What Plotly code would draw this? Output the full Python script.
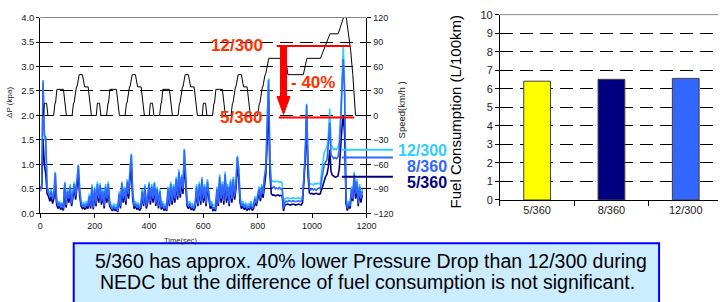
import plotly.graph_objects as go

W, H = 728, 302

# ---------------- data ----------------
TIME = list(range(0, 1190, 5))

DP_12_300 = [
    0.5, 0.6, 2.65, 1.55, 1.45, 0.55, 0.48, 0.4, 0.5, 0.35, 0.42, 0.85, 0.3, 0.2, 0.25, 0.18, 0.22, 0.15, 0.65, 0.22,
    0.5, 0.35, 0.6, 0.25, 0.45, 0.65, 0.4, 0.75, 1.0, 0.5, 0.25, 0.2, 0.22, 0.18, 0.25, 0.2, 0.4, 0.2, 0.6, 0.18,
    0.55, 0.25, 0.65, 0.35, 0.62, 0.3, 0.5, 0.2, 0.6, 0.35, 0.65, 0.25, 0.18, 0.12, 0.2, 0.15, 0.18, 0.1, 0.45, 0.2,
    0.65, 0.35, 0.55, 0.3, 0.7, 0.45, 0.9, 1.22, 0.45, 0.2, 0.25, 0.18, 0.22, 0.15, 0.2, 0.5, 0.25, 0.6, 0.2, 0.35,
    0.65, 0.3, 0.6, 0.35, 0.65, 0.25, 0.55, 0.2, 0.5, 0.18, 0.25, 0.15, 0.2, 0.12, 0.55, 0.25, 0.65, 0.3, 0.6, 0.35,
    0.75, 0.4, 0.9, 0.45, 0.8, 0.55, 1.32, 0.65, 0.25, 0.2, 0.25, 0.18, 0.2, 0.15, 0.22, 0.6, 0.25, 0.65, 0.3, 0.75,
    0.35, 0.6, 0.25, 0.7, 0.4, 0.2, 0.25, 0.15, 0.18, 0.12, 0.55, 0.25, 0.8, 0.35, 0.65, 0.3, 0.85, 0.35, 0.6, 0.25,
    0.7, 0.35, 0.75, 0.4, 0.65, 1.18, 0.95, 0.35, 0.2, 0.25, 0.18, 0.22, 0.15, 0.2, 0.18, 0.25, 0.15, 0.2, 0.35, 0.25,
    0.4, 0.55, 0.35, 0.6, 0.45, 0.8, 1.0, 1.9, 2.76, 1.1, 0.68, 0.65, 0.66, 0.64, 0.66, 0.65, 0.63, 0.65, 0.62, 0.1,
    0.3, 0.31, 0.32, 0.3, 0.31, 0.3, 0.32, 0.31, 0.3, 0.31, 0.32, 0.3, 0.31, 0.35, 0.7, 1.3, 2.24, 1.1, 0.62, 0.6,
    0.6, 0.58, 0.61, 0.6, 0.62, 0.6, 0.6, 0.85, 1.1, 1.25, 1.3, 1.35, 1.6, 2.14, 1.4, 1.33, 1.3, 1.32, 1.3, 1.33,
    1.45, 2.0, 2.9, 3.42, 2.6, 0.35, 0.12, 0.25, 0.2, 0.55, 0.35, 0.85, 0.45, 0.7, 0.25, 0.6, 0.35, 0.5,
]

DP_8_360 = [
    0.45, 0.55, 2.72, 1.6, 1.55, 0.5, 0.42, 0.35, 0.45, 0.3, 0.38, 0.82, 0.25, 0.15, 0.22, 0.12, 0.2, 0.1, 0.62, 0.18,
    0.45, 0.3, 0.55, 0.2, 0.4, 0.6, 0.35, 0.7, 0.98, 0.45, 0.2, 0.15, 0.18, 0.12, 0.2, 0.15, 0.35, 0.15, 0.55, 0.12,
    0.5, 0.2, 0.6, 0.3, 0.58, 0.25, 0.45, 0.15, 0.55, 0.3, 0.6, 0.2, 0.12, 0.08, 0.15, 0.1, 0.12, 0.05, 0.4, 0.15,
    0.62, 0.3, 0.5, 0.25, 0.65, 0.4, 0.85, 1.2, 0.4, 0.15, 0.2, 0.12, 0.18, 0.1, 0.15, 0.45, 0.2, 0.55, 0.15, 0.3,
    0.6, 0.25, 0.55, 0.3, 0.62, 0.2, 0.5, 0.15, 0.45, 0.12, 0.2, 0.1, 0.15, 0.08, 0.5, 0.2, 0.6, 0.25, 0.55, 0.3,
    0.7, 0.35, 0.85, 0.4, 0.75, 0.5, 1.3, 0.6, 0.2, 0.15, 0.2, 0.12, 0.15, 0.1, 0.18, 0.55, 0.2, 0.6, 0.25, 0.7,
    0.3, 0.55, 0.2, 0.65, 0.35, 0.15, 0.2, 0.1, 0.12, 0.08, 0.5, 0.2, 0.75, 0.3, 0.6, 0.25, 0.8, 0.3, 0.55, 0.2,
    0.65, 0.3, 0.7, 0.35, 0.6, 1.15, 0.9, 0.3, 0.15, 0.2, 0.12, 0.18, 0.1, 0.15, 0.12, 0.2, 0.1, 0.15, 0.3, 0.2,
    0.35, 0.5, 0.3, 0.55, 0.4, 0.75, 0.9, 1.8, 2.72, 1.0, 0.55, 0.52, 0.55, 0.5, 0.52, 0.5, 0.53, 0.5, 0.5, 0.1,
    0.22, 0.25, 0.24, 0.26, 0.25, 0.24, 0.26, 0.25, 0.24, 0.25, 0.26, 0.24, 0.25, 0.3, 0.8, 1.2, 2.22, 1.0, 0.5, 0.48,
    0.5, 0.48, 0.5, 0.47, 0.5, 0.52, 0.5, 0.7, 0.9, 1.0, 1.05, 1.1, 1.4, 1.85, 1.2, 1.15, 1.12, 1.14, 1.12, 1.15,
    1.3, 1.8, 2.6, 3.15, 2.4, 0.3, 0.1, 0.2, 0.15, 0.5, 0.3, 0.8, 0.4, 0.65, 0.2, 0.55, 0.3, 0.45,
]

DP_5_360 = [
    0.55, 0.5, 1.5, 1.0, 0.8, 0.4, 0.35, 0.25, 0.35, 0.2, 0.3, 0.6, 0.18, 0.1, 0.15, 0.08, 0.12, 0.06, 0.5, 0.12,
    0.38, 0.22, 0.45, 0.15, 0.32, 0.5, 0.28, 0.6, 0.8, 0.35, 0.15, 0.1, 0.12, 0.08, 0.14, 0.1, 0.28, 0.1, 0.45, 0.08,
    0.42, 0.15, 0.5, 0.22, 0.5, 0.18, 0.38, 0.1, 0.45, 0.22, 0.5, 0.15, 0.08, 0.05, 0.1, 0.06, 0.08, 0.03, 0.32, 0.1,
    0.52, 0.22, 0.42, 0.18, 0.55, 0.3, 0.7, 0.95, 0.3, 0.1, 0.15, 0.08, 0.12, 0.06, 0.1, 0.38, 0.15, 0.45, 0.1, 0.22,
    0.5, 0.18, 0.45, 0.22, 0.52, 0.15, 0.42, 0.1, 0.38, 0.08, 0.15, 0.06, 0.1, 0.05, 0.42, 0.15, 0.5, 0.18, 0.45, 0.22,
    0.58, 0.28, 0.7, 0.32, 0.62, 0.4, 1.05, 0.5, 0.15, 0.1, 0.15, 0.08, 0.1, 0.06, 0.12, 0.45, 0.15, 0.5, 0.18, 0.58,
    0.22, 0.45, 0.15, 0.55, 0.28, 0.1, 0.15, 0.06, 0.08, 0.05, 0.42, 0.15, 0.62, 0.22, 0.5, 0.18, 0.68, 0.22, 0.45, 0.15,
    0.55, 0.22, 0.58, 0.28, 0.5, 0.95, 0.75, 0.22, 0.1, 0.15, 0.08, 0.12, 0.06, 0.1, 0.08, 0.15, 0.06, 0.1, 0.25, 0.15,
    0.28, 0.42, 0.25, 0.45, 0.32, 0.62, 0.8, 1.5, 2.3, 0.8, 0.4, 0.37, 0.38, 0.36, 0.37, 0.38, 0.36, 0.37, 0.36, 0.05,
    0.17, 0.18, 0.19, 0.18, 0.17, 0.18, 0.19, 0.18, 0.17, 0.18, 0.19, 0.18, 0.17, 0.22, 0.6, 1.1, 1.9, 0.8, 0.42, 0.4,
    0.41, 0.39, 0.4, 0.41, 0.4, 0.39, 0.4, 0.5, 0.6, 0.7, 0.75, 0.8, 0.95, 1.3, 0.85, 0.78, 0.75, 0.74, 0.75, 0.76,
    0.9, 1.4, 1.75, 2.0, 1.6, 0.2, 0.06, 0.15, 0.1, 0.4, 0.25, 0.7, 0.3, 0.5, 0.15, 0.45, 0.22, 0.38,
]

SPEED_T = [
    0, 11, 15, 23, 28, 49, 54, 56, 61, 85, 96, 117, 122, 124, 133, 135, 143, 155, 163, 176, 188,
    195, 206, 210, 218, 223, 244, 249, 251, 256, 280, 291, 312, 317, 319, 328, 330, 338, 350, 358, 371, 383,
    390, 401, 405, 413, 418, 439, 444, 446, 451, 475, 486, 507, 512, 514, 523, 525, 533, 545, 553, 566, 578,
    585, 596, 600, 608, 613, 634, 639, 641, 646, 670, 681, 702, 707, 709, 718, 720, 728, 740, 748, 761, 773,
    780, 800, 806, 808, 817, 819, 827, 829, 841, 903, 911, 968, 981, 1031, 1066, 1096, 1116, 1126, 1142,
    1150, 1160, 1180,
]
SPEED_V = [
    0, 0, 15, 15, 0, 0, 15, 15, 32, 32, 0, 0, 15, 15, 35, 35, 50, 50, 35, 35, 0,
    0, 0, 15, 15, 0, 0, 15, 15, 32, 32, 0, 0, 15, 15, 35, 35, 50, 50, 35, 35, 0,
    0, 0, 15, 15, 0, 0, 15, 15, 32, 32, 0, 0, 15, 15, 35, 35, 50, 50, 35, 35, 0,
    0, 0, 15, 15, 0, 0, 15, 15, 32, 32, 0, 0, 15, 15, 35, 35, 50, 50, 35, 35, 0,
    0, 0, 15, 15, 35, 35, 50, 50, 70, 70, 50, 50, 70, 70, 100, 100, 120, 120, 80,
    50, 0, 0,
]

SERIES_NAMES = ["12/300", "8/360", "5/360"]
SERIES_COLORS = ["#33CCFF", "#3366FF", "#000080"]
PLATEAU_LEVEL = [1.30, 1.14, 0.75]   # level marked by the side labels

# red comparison markers
PEAK_12_300 = 3.42
PEAK_5_360 = 1.96
LINE_12_300_T = [870, 1141]
LINE_5_360_T = [877, 1155]
ARROW_T = 895
ARROW_FROM = 3.40
ARROW_TO = 2.02
REDUCTION_TEXT = "- 40%"
REDUCTION_LEVEL = 2.67

# fuel consumption bars
FUEL_CATS = ["5/360", "8/360", "12/300"]
FUEL_VALUES = [6.41, 6.51, 6.56]
FUEL_COLORS = ["#FFFF00", "#000080", "#3366FF"]

NOTE_LINES = [
    "5/360 has approx. 40% lower Pressure Drop than 12/300 during",
    "NEDC but the difference of fuel consumption is not significant.",
]

# ---------------- layout helpers ----------------
def px(xp):
    return xp / W

def py(yp):
    return 1 - yp / H

L_X = [px(38), px(370)]
L_Y = [py(216), py(12)]
R_X = [px(506), 1.0]
R_Y = [py(202), py(9)]

def dp_to_paper(v):
    return L_Y[0] + (v / 4.0) * (L_Y[1] - L_Y[0])

FONT = "Liberation Sans, Arial, sans-serif"

fig = go.Figure()

# speed profile
fig.add_trace(go.Scatter(x=SPEED_T, y=SPEED_V, mode="lines", yaxis="y3", xaxis="x",
                         line=dict(color="#000000", width=1), showlegend=False))
# pressure drop curves
order = [0, 2, 1]
for i in order:
    vals = [DP_12_300, DP_8_360, DP_5_360][i]
    fig.add_trace(go.Scatter(x=TIME, y=vals, mode="lines", xaxis="x", yaxis="y",
                             line=dict(color=SERIES_COLORS[i], width=1.6), showlegend=False))

# bars
fig.add_trace(go.Bar(x=FUEL_CATS, y=FUEL_VALUES, xaxis="x2", yaxis="y2", width=0.36,
                     marker=dict(color=FUEL_COLORS, line=dict(color="#404040", width=1)),
                     showlegend=False))

dash = "13px,7px"
tickfont_s = dict(family=FONT, size=9, color="#222")
fig.update_layout(
    width=W, height=H, autosize=False,
    margin=dict(l=0, r=0, t=0, b=0),
    paper_bgcolor="white", plot_bgcolor="white",
    font=dict(family=FONT, color="#000"),
    xaxis=dict(domain=L_X, range=[0, 1200], tickvals=list(range(0, 1201, 200)),
               showgrid=False, zeroline=False, showline=True, linecolor="#000", linewidth=1,
               ticks="outside", ticklen=4, tickcolor="#000", tickfont=tickfont_s, anchor="y"),
    yaxis=dict(domain=L_Y, range=[0, 4], tickvals=[0, 0.5, 1, 1.5, 2, 2.5, 3, 3.5, 4],
               tickformat=".1f", showgrid=True, gridcolor="#000", gridwidth=1, griddash=dash,
               zeroline=False, showline=True, linecolor="#000", linewidth=1,
               ticks="outside", ticklen=3, tickcolor="#000",
               tickfont=dict(family=FONT, size=9.5, color="#222"), anchor="x"),
    yaxis3=dict(overlaying="y", side="right", anchor="x", range=[-120, 120],
                tickvals=list(range(-120, 121, 30)), showgrid=False, zeroline=False,
                showline=True, linecolor="#000", linewidth=1, ticks="outside", ticklen=4,
                tickcolor="#000", tickfont=tickfont_s),
    xaxis2=dict(domain=R_X, type="category", range=[-0.5, 2.434], anchor="y2",
                tickson="boundaries", ticks="outside", ticklen=5, tickcolor="#000",
                showline=True, linecolor="#000", linewidth=1, showgrid=False,
                tickfont=dict(family=FONT, size=11, color="#222")),
    yaxis2=dict(domain=R_Y, range=[0, 10], dtick=1, anchor="x2", showgrid=True,
                gridcolor="#000", gridwidth=1, griddash=dash, zeroline=False,
                showline=True, linecolor="#000", linewidth=1, ticks="outside", ticklen=4,
                tickcolor="#000", tickfont=dict(family=FONT, size=11, color="#222")),
)

shapes = []
# top borders
shapes.append(dict(type="line", xref="paper", yref="paper", x0=L_X[0], x1=L_X[1], y0=L_Y[1], y1=L_Y[1],
                   line=dict(color="#888", width=1)))
shapes.append(dict(type="line", xref="paper", yref="paper", x0=R_X[0], x1=R_X[1], y0=R_Y[1], y1=R_Y[1],
                   line=dict(color="#888", width=1)))
# red horizontal comparison lines
shapes.append(dict(type="line", xref="x", yref="y", x0=LINE_12_300_T[0], x1=LINE_12_300_T[1],
                   y0=PEAK_12_300, y1=PEAK_12_300, line=dict(color="#FF0000", width=2)))
shapes.append(dict(type="line", xref="x", yref="y", x0=LINE_5_360_T[0], x1=LINE_5_360_T[1],
                   y0=PEAK_5_360, y1=PEAK_5_360, line=dict(color="#FF0000", width=2)))
# arrow shaft + head
shapes.append(dict(type="line", xref="x", yref="y", x0=ARROW_T, x1=ARROW_T, y0=ARROW_FROM, y1=ARROW_TO + 0.3,
                   line=dict(color="#FF0000", width=7)))
shapes.append(dict(type="path", xref="x", yref="y", xsizemode="pixel", ysizemode="pixel",
                   xanchor=ARROW_T, yanchor=ARROW_TO, path="M -6.5 18 L 6.5 18 L 0 0 Z",
                   fillcolor="#FF0000", line=dict(color="#FF0000", width=1)))
# side label lines
for lvl, col in zip(PLATEAU_LEVEL, SERIES_COLORS):
    yy = dp_to_paper(lvl)
    shapes.append(dict(type="line", xref="paper", yref="paper", x0=px(345), x1=px(397), y0=yy, y1=yy,
                       line=dict(color=col, width=2)))
# text box
shapes.append(dict(type="rect", xref="paper", yref="paper", x0=px(72), x1=px(668), y0=-0.1, y1=py(247),
                   fillcolor="#CCECFF", line=dict(color="#0000FF", width=2), layer="below"))
fig.update_layout(shapes=shapes)

ann = []
red = "#FF3300"

def add_text(x, y, text, size, color, xref="paper", yref="paper", xanchor="center", angle=0):
    ann.append(dict(xref=xref, yref=yref, x=x, y=y, text=text, showarrow=False,
                    xanchor=xanchor, yanchor="middle", textangle=angle, borderpad=0,
                    font=dict(family=FONT, size=size, color=color)))

add_text(px(266), PEAK_12_300, "<b>12/300</b>", 17, red, yref="y", xanchor="right")
add_text(px(266), PEAK_5_360, "<b>5/360</b>", 17, red, yref="y", xanchor="right")
add_text(px(292), REDUCTION_LEVEL, "<b>" + REDUCTION_TEXT + "</b>", 17, red, yref="y", xanchor="left")
label_y = [150, 167, 184]
for name, col, yy in zip(SERIES_NAMES, SERIES_COLORS, label_y):
    add_text(px(453), py(yy), "<b>" + name + "</b>", 16, col, xanchor="right")
add_text(px(6), py(100), "ΔP (kpa)", 8, "#222", angle=-90)
add_text(px(406), py(108), "Speed(km/h )", 9.5, "#222", angle=-90)
add_text(px(181), py(244), "Time(sec)", 7.5, "#222")
add_text(px(461), py(110), "Fuel Consumption (L/100km)", 15, "#000", angle=-90)
add_text(px(375), py(266), NOTE_LINES[0], 19.5, "#000")
add_text(px(371), py(287), NOTE_LINES[1], 19.5, "#000")
fig.update_layout(annotations=ann)

fig.write_html("out.html", config={"displayModeBar": False},
               post_script="document.body.style.margin='0';")
